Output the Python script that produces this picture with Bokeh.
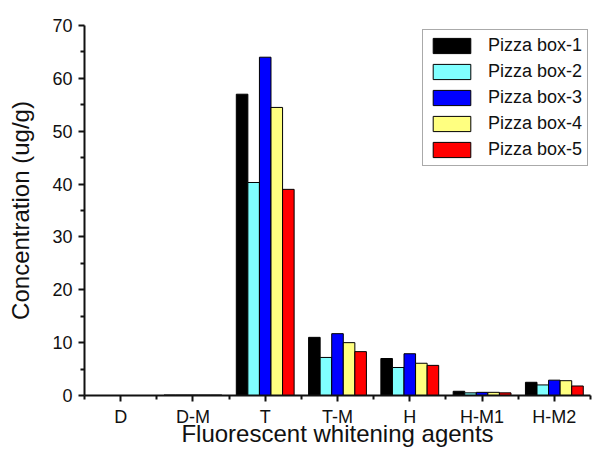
from bokeh.plotting import figure
from bokeh.models import ColumnDataSource, Legend, LegendItem, FixedTicker, Range1d
from bokeh.transform import dodge
from bokeh.embed import file_html
from bokeh.resources import INLINE

categories = ["D", "D-M", "T", "T-M", "H", "H-M1", "H-M2"]
series_names = ["Pizza box-1", "Pizza box-2", "Pizza box-3", "Pizza box-4", "Pizza box-5"]
box1 = [0.0, 0.1, 57.0, 11.0, 7.0, 0.8, 2.5]
box2 = [0.0, 0.1, 40.3, 7.2, 5.3, 0.5, 2.0]
box3 = [0.0, 0.1, 64.0, 11.7, 7.9, 0.6, 2.9]
box4 = [0.0, 0.1, 54.5, 10.0, 6.1, 0.6, 2.8]
box5 = [0.0, 0.1, 39.0, 8.3, 5.7, 0.5, 1.8]
colors = ["#000000", "#80FFFF", "#0000FF", "#FFFF80", "#FF0000"]
y_ticks = [0, 10, 20, 30, 40, 50, 60, 70]
y_minor = [5, 15, 25, 35, 45, 55, 65]
x_title = "Fluorescent whitening agents"
y_title = "Concentration (ug/g)"

xpos = list(range(len(categories)))
src = ColumnDataSource(dict(x=xpos, b1=box1, b2=box2, b3=box3, b4=box4, b5=box5))

p = figure(width=595, height=457, output_backend="svg", toolbar_location=None,
           x_range=Range1d(-0.5, 6.5), y_range=Range1d(0, 70),
           min_border_left=84, min_border_right=5, min_border_top=25, min_border_bottom=62)
p.outline_line_color = None
p.grid.visible = False

bw = 0.16
offsets = [-0.32, -0.16, 0.0, 0.16, 0.32]
keys = ["b1", "b2", "b3", "b4", "b5"]
renderers = []
for k, off, c in zip(keys, offsets, colors):
    r = p.vbar(x=dodge("x", off), top=k, width=bw, source=src, fill_color=c,
               line_color="#000000", line_width=1)
    renderers.append(r)

legend = Legend(items=[LegendItem(label=n, renderers=[r]) for n, r in zip(series_names, renderers)],
                location=(338, 229))
legend.glyph_width = 47
legend.glyph_height = 19
legend.label_height = 19
legend.spacing = 5
legend.padding = 5
legend.margin = 0
legend.label_standoff = 13
legend.label_text_font = "Liberation Sans"
legend.label_text_font_size = "18px"
legend.label_text_color = "#111111"
legend.border_line_color = "#555555"
legend.border_line_width = 1
p.add_layout(legend, "center")

p.xaxis.ticker = FixedTicker(ticks=xpos, minor_ticks=[i + 0.5 for i in range(-1, 7)])
p.xaxis.major_label_overrides = {i: c for i, c in enumerate(categories)}
p.yaxis.ticker = FixedTicker(ticks=y_ticks, minor_ticks=y_minor)

for ax in (p.xaxis[0], p.yaxis[0]):
    ax.axis_line_width = 2
    ax.axis_line_color = "#111111"
    ax.major_tick_line_color = "#111111"
    ax.minor_tick_line_color = "#111111"
    ax.major_tick_line_width = 2
    ax.minor_tick_line_width = 2
    ax.major_tick_out = 6
    ax.major_tick_in = 0
    ax.minor_tick_out = 4
    ax.minor_tick_in = 0
    ax.major_label_text_font = "Liberation Sans"
    ax.major_label_text_font_size = "18px"
    ax.major_label_text_color = "#111111"
    ax.axis_label_text_font = "Liberation Sans"
    ax.axis_label_text_font_style = "normal"
    ax.axis_label_text_color = "#111111"
    ax.axis_label_text_font_size = "24px"

p.xaxis.major_label_standoff = 5
p.yaxis.major_label_standoff = 6

p.xaxis.axis_label = x_title
p.xaxis.axis_label_standoff = -10
p.yaxis.axis_label = y_title
p.yaxis.axis_label_standoff = 15

open("out.html", "w").write(file_html(p, INLINE))
